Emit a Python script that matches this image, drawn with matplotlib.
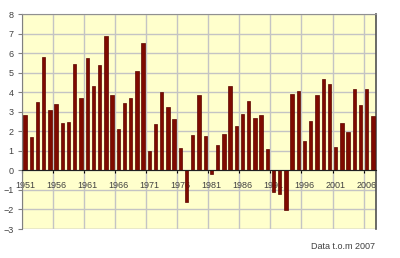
"""Årlig avvikelse 1951-2007, stapeldiagram"""

import matplotlib
matplotlib.use("Agg")
import matplotlib.pyplot as plt
import numpy as np

plt.rcParams["font.family"] = ["Liberation Sans", "DejaVu Sans"]

years = list(range(1951, 2008))
values = [
    2.84, 1.73, 3.52, 5.80, 3.08, 3.40, 2.43, 2.48, 5.44, 3.71,
    5.75, 4.30, 5.39, 6.90, 3.87, 2.14, 3.44, 3.71, 5.09, 6.51,
    0.99, 2.35, 4.03, 3.25, 2.64, 1.12, -1.60, 1.80, 3.88, 1.77,
    -0.17, 1.28, 1.84, 4.34, 2.26, 2.89, 3.54, 2.70, 2.84, 1.07,
    -1.10, -1.19, -2.04, 3.91, 4.08, 1.51, 2.52, 3.84, 4.66, 4.44,
    1.17, 2.43, 1.94, 4.15, 3.35, 4.17, 2.76,
]
tick_years = years[::5]
note = "Data t.o.m 2007"

BAR = "#7f0a00"
GRID = "#c4c4c4"
TXT = "#404040"

fig = plt.figure(figsize=(4.0, 2.58), dpi=100)
ax = fig.add_axes([0.055, 0.1124, 0.885, 0.8333])
ax.set_facecolor("#ffffcc")

x = np.arange(len(years))
ax.bar(x, values, width=0.55, color=BAR, edgecolor="#5c0500", linewidth=0.5, zorder=3)

ax.set_xlim(-0.5, len(years) - 0.5)
ax.set_ylim(-3, 8)
ax.set_yticks(range(-3, 9))

# gridlines between categories every 5 years, labels at category centers
ax.set_xticks(np.arange(-0.5, len(years), 5))
ax.set_xticklabels([])
ax.set_xticks([years.index(y) for y in tick_years], minor=True)
ax.set_xticklabels([str(y) for y in tick_years], minor=True)
ax.tick_params(axis="x", which="major", length=2.5, width=0.8, color="black", direction="out")
ax.tick_params(axis="x", which="minor", length=0, pad=8, labelsize=6.5, labelcolor=TXT)
ax.tick_params(axis="y", length=3, width=0.8, color="#808080", labelsize=6.5,
               labelcolor=TXT, pad=3)

ax.grid(True, which="major", color=GRID, linewidth=1.0, zorder=0)
ax.set_axisbelow(True)

ax.spines["bottom"].set_position(("data", 0))
ax.spines["bottom"].set_color("#202020")
ax.spines["bottom"].set_zorder(4)
ax.spines["left"].set_color("#808080")
ax.spines["top"].set_color("#909090")
ax.spines["right"].set_color("#505050")
ax.spines["right"].set_linewidth(1.2)
ax.axhline(-3, color=GRID, linewidth=1.0, zorder=0)

fig.text(0.937, 0.043, note, ha="right", va="center", fontsize=6.5, color=TXT)

fig.savefig("out.png", dpi=100)
